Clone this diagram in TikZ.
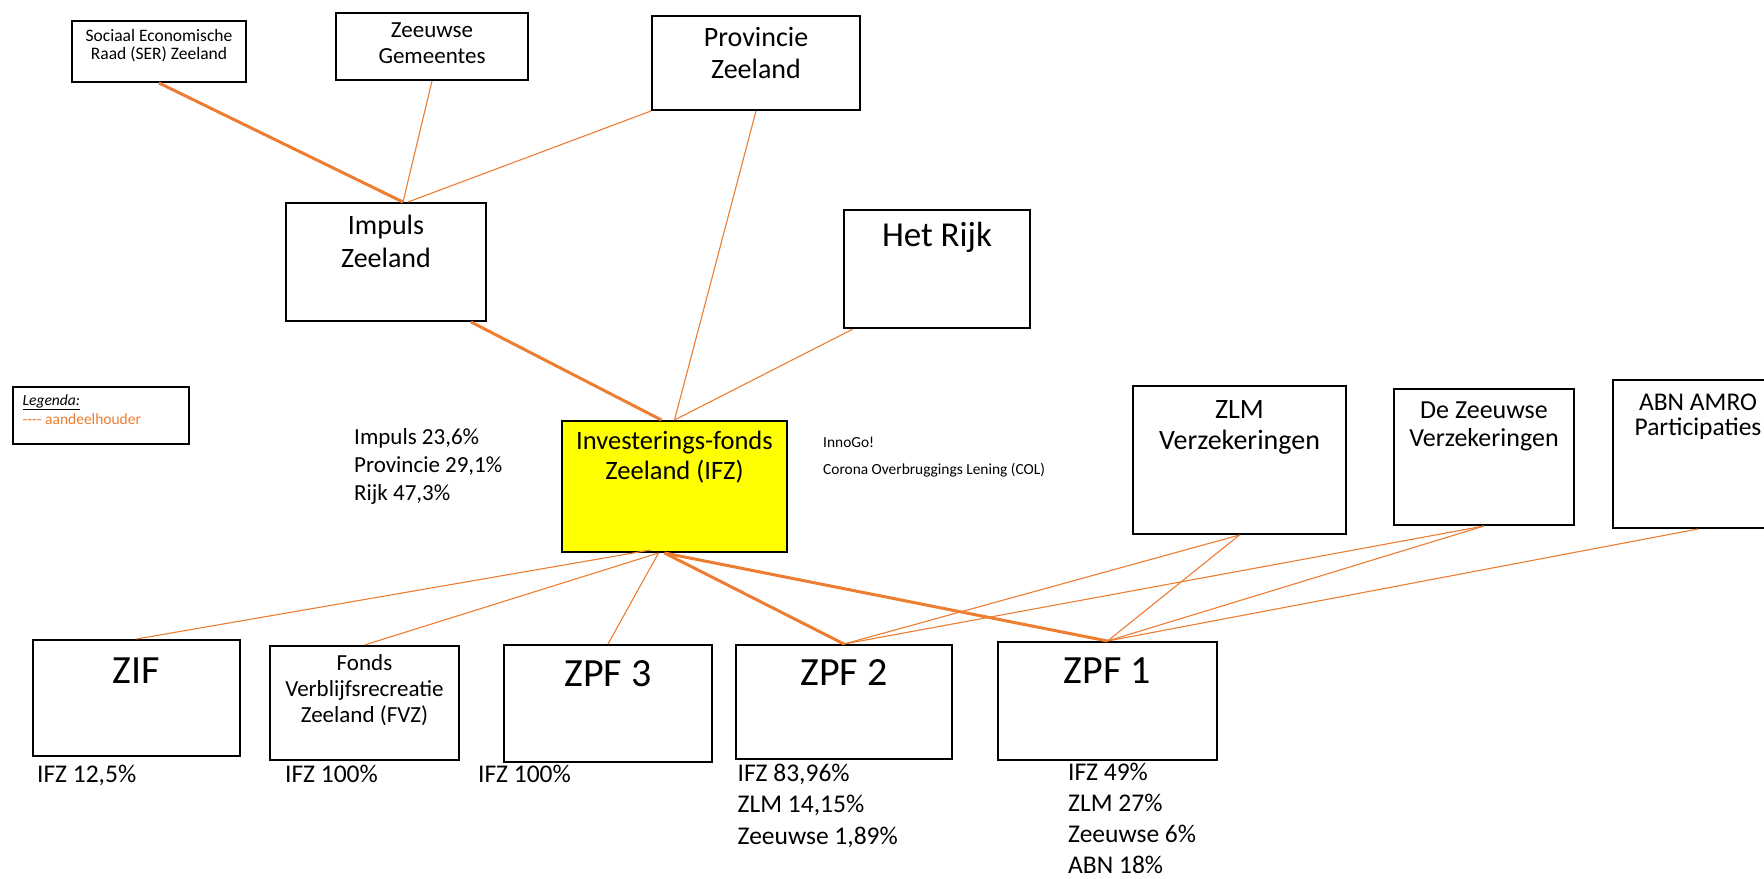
\documentclass[tikz,border=0pt]{standalone}
\usepackage{fontspec}
\setmainfont{Carlito}
\usepackage{tikz}
\definecolor{lijnoranje}{HTML}{ED7D31}
\definecolor{ifzgeel}{HTML}{FFFF00}
\newcommand{\fs}[2]{\fontsize{#1pt}{#2pt}\selectfont}
\tikzset{
  blok/.style={draw, line width=2pt, anchor=north west, inner sep=0pt},
  bloktekst/.style={anchor=base, align=center, inner sep=0pt},
  tekst/.style={anchor=base west, align=left, inner sep=0pt},
  aandeel/.style={draw=lijnoranje, line width=1.1pt},
  hoofd/.style={draw=lijnoranje, line width=3pt}
}

\begin{document}
\begin{tikzpicture}[x=1pt, y=1pt]
    \useasboundingbox (0,0) rectangle (1764,-878);
    \clip (0,0) rectangle (1764,-878);
    % aandeelhouders bovenaan
    \node [blok, minimum width=174pt, minimum height=61pt, label={[bloktekst, font=\fs{17.5}{18}, yshift=-39.5pt]north:Sociaal Economische\\Raad (SER) Zeeland}] (ser) at (71,-20) {};
    \node [blok, minimum width=192pt, minimum height=67pt, label={[bloktekst, font=\fs{23}{26}, yshift=-51.5pt]north:Zeeuwse\\Gemeentes}] (gem) at (335,-12) {};
    \node [blok, minimum width=208pt, minimum height=94pt, label={[bloktekst, font=\fs{28}{32}, yshift=-63pt]north:Provincie\\Zeeland}] (prov) at (651,-15) {};
    \node [blok, minimum width=200pt, minimum height=118pt, label={[bloktekst, font=\fs{28}{33}, yshift=-65pt]north:Impuls\\Zeeland}] (imp) at (285,-202) {};
    \node [blok, minimum width=186pt, minimum height=118pt, label={[bloktekst, font=\fs{35}{40}, yshift=-37pt]north:Het Rijk}] (rijk) at (843,-209) {};
    % legenda
    \node [blok, minimum width=176pt, minimum height=57pt, label={[tekst, font=\fs{15.5}{19}, xshift=10.5pt, yshift=-38.5pt]north west:\underline{\textit{Legenda:}}\\\textcolor{lijnoranje}{-\kern0pt-\kern0pt-\kern0pt- aandeelhouder}}] (leg) at (12,-386) {};
    % IFZ
    \node [blok, fill=ifzgeel, minimum width=225pt, minimum height=131pt, label={[bloktekst, font=\fs{26.5}{30}, yshift=-59pt]north:Investerings-fonds\\Zeeland (IFZ)}] (ifz) at (561,-420) {};
    \node [tekst, font=\fs{23}{28}] (ifzaandeel) at (354,-500.5) {Impuls 23,6\%\\Provincie 29,1\%\\Rijk 47,3\%};
    \node [tekst, font=\fs{15.4}{26.5}] (ifzregeling) at (823,-474) {InnoGo!\\Corona Overbruggings Lening (COL)};
    % overige aandeelhouders
    \node [blok, minimum width=213pt, minimum height=148pt, label={[bloktekst, font=\fs{28}{31}, yshift=-64pt]north:ZLM\\Verzekeringen}] (zlm) at (1132,-385) {};
    \node [blok, minimum width=180pt, minimum height=136pt, label={[bloktekst, font=\fs{26}{28}, yshift=-58pt]north:De Zeeuwse\\Verzekeringen}] (dzv) at (1393,-388) {};
    \node [blok, minimum width=170pt, minimum height=148pt, label={[bloktekst, font=\fs{25.5}{25.5}, yshift=-56.5pt]north:ABN AMRO\\Participaties}] (abn) at (1612,-379) {};
    % fondsen
    \node [blok, minimum width=207pt, minimum height=116pt, label={[bloktekst, font=\fs{40}{44}, yshift=-44pt]north:ZIF}] (zif) at (32,-639) {};
    \node [blok, minimum width=189pt, minimum height=114pt, label={[bloktekst, font=\fs{23}{26}, yshift=-77pt]north:Fonds\\Verblijfsrecreatie\\Zeeland (FVZ)}] (fvz) at (269,-645) {};
    \node [blok, minimum width=208pt, minimum height=117pt, label={[bloktekst, font=\fs{40}{44}, yshift=-42pt]north:ZPF 3}] (zpf3) at (503,-644) {};
    \node [blok, minimum width=216pt, minimum height=114pt, label={[bloktekst, font=\fs{40}{44}, yshift=-41pt]north:ZPF 2}] (zpf2) at (735,-644) {};
    \node [blok, minimum width=219pt, minimum height=118pt, label={[bloktekst, font=\fs{40}{44}, yshift=-42pt]north:ZPF 1}] (zpf1) at (997,-641) {};
    \node [tekst, font=\fs{25.5}{31.5}] (zifaandeel) at (37,-782.5) {IFZ 12,5\%};
    \node [tekst, font=\fs{25.5}{31.5}] (fvzaandeel) at (285,-782.5) {IFZ 100\%};
    \node [tekst, font=\fs{25.5}{31.5}] (zpf3aandeel) at (478,-782.5) {IFZ 100\%};
    \node [tekst, font=\fs{25.5}{31.5}] (zpf2aandeel) at (737.5,-844) {IFZ 83,96\%\\ZLM 14,15\%\\Zeeuwse 1,89\%};
    \node [tekst, font=\fs{25.5}{31}] (zpf1aandeel) at (1068,-873) {IFZ 49\%\\ZLM 27\%\\Zeeuwse 6\%\\ABN 18\%};
    % lijnen
    \draw [hoofd] (ser.south) -- ([xshift=17pt]imp.north);
    \draw [aandeel] (gem.south) -- ([xshift=17pt]imp.north);
    \draw [aandeel] (prov.south west) -- ([xshift=22pt]imp.north);
    \draw [aandeel] (prov.south) -- (ifz.north);
    \draw [hoofd] ([xshift=85pt]imp.south) -- ([xshift=-13pt]ifz.north);
    \draw [aandeel] ([xshift=-84pt]rijk.south) -- (ifz.north);
    \draw [aandeel] ([xshift=-24pt,yshift=3pt]ifz.south) -- (zif.north);
    \draw [aandeel] ([xshift=-16pt]ifz.south) -- (fvz.north);
    \draw [aandeel] ([xshift=-16pt]ifz.south) -- (zpf3.north);
    \draw [hoofd] ([xshift=-10pt]ifz.south) -- (zpf2.north);
    \draw [hoofd] ([xshift=-10pt]ifz.south) -- (zpf1.north);
    \draw [aandeel] (zlm.south) -- (zpf2.north);
    \draw [aandeel] (zlm.south) -- (zpf1.north);
    \draw [aandeel] (dzv.south) -- (zpf2.north);
    \draw [aandeel] (dzv.south) -- (zpf1.north);
    \draw [aandeel] (abn.south) -- (zpf1.north);
\end{tikzpicture}
\end{document}
